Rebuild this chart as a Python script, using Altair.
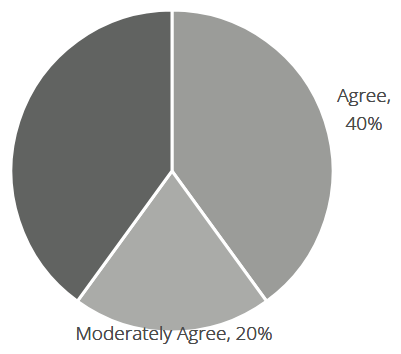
import altair as alt
import pandas as pd

categories = ["Agree", "Moderately Agree", "Strongly Agree"]
values = [40, 20, 40]
colors = ["#9b9c99", "#aaaba8", "#616361"]

df = pd.DataFrame({"category": categories, "value": values, "order": list(range(len(categories)))})

pie = alt.Chart(df).mark_arc(outerRadius=161, stroke="white", strokeWidth=3).encode(
    theta=alt.Theta("value:Q", stack=True),
    order=alt.Order("order:Q"),
    color=alt.Color("category:N", scale=alt.Scale(domain=categories, range=colors), legend=None),
    x=alt.value(164),
    y=alt.value(163),
)

font = "Open Sans"
lbl_agree = alt.Chart(df).mark_text(
    text=[f"{categories[0]},", f"{values[0]}%"], font=font, fontSize=19, fontWeight=300,
    color="#4a4a4a", lineHeight=28, baseline="alphabetic", align="center"
).encode(x=alt.value(356), y=alt.value(94))

lbl_mod = alt.Chart(df).mark_text(
    text=f"{categories[1]}, {values[1]}%", font=font, fontSize=19, fontWeight=300,
    color="#4a4a4a", baseline="alphabetic", align="center"
).encode(x=alt.value(166), y=alt.value(332))

chart = alt.layer(pie, lbl_agree, lbl_mod).properties(
    width=385, height=338, padding=0, autosize="none"
).configure_view(stroke=None)

chart.save("out.html", embed_options={"renderer": "svg", "actions": False})
